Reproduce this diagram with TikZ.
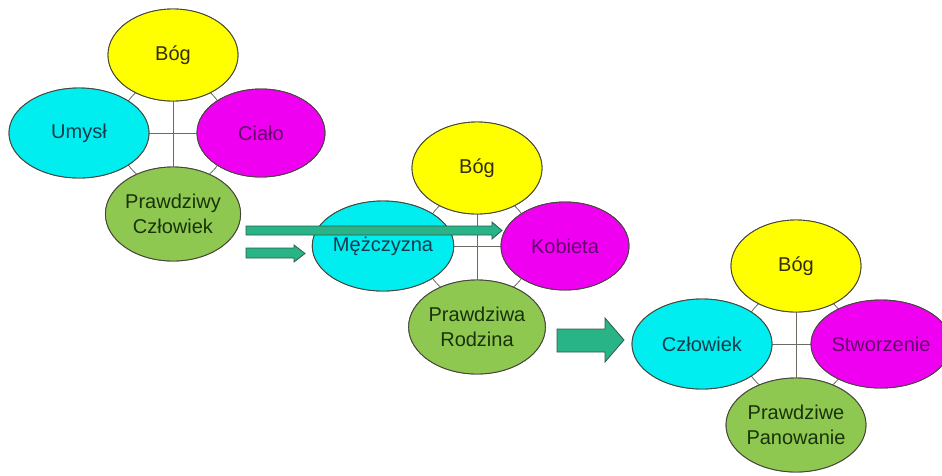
\documentclass[tikz,border=0pt]{standalone}
\usepackage{fontspec}
\setmainfont{Liberation Sans}
\usetikzlibrary{shapes.geometric}
\definecolor{cyellow}{RGB}{255,255,0}
\definecolor{ccyan}{RGB}{0,238,240}
\definecolor{cmag}{RGB}{240,0,240}
\definecolor{cgreen}{RGB}{142,200,80}
\definecolor{tyellow}{RGB}{50,45,10}
\definecolor{tcyan}{RGB}{20,60,75}
\definecolor{tmag}{RGB}{100,0,110}
\definecolor{tgreen}{RGB}{25,50,10}
\definecolor{cedge}{RGB}{70,70,60}
\definecolor{carrow}{RGB}{40,180,135}
\definecolor{carrowedge}{RGB}{45,90,75}
\tikzset{
  bubble/.style={ellipse, draw=cedge, line width=0.9pt, inner sep=0pt, align=center,
     font=\fontsize{20}{25}\selectfont},
  topb/.style={bubble, fill=cyellow, text=tyellow, minimum width=130pt, minimum height=92pt},
  leftb/.style={bubble, fill=ccyan, text=tcyan, minimum width=140pt, minimum height=90pt},
  rightb/.style={bubble, fill=cmag, text=tmag, minimum width=128pt, minimum height=88pt},
  botb/.style={bubble, fill=cgreen, text=tgreen, minimum width=132pt, minimum height=94pt},
  hubline/.style={draw=cedge!80, line width=0.8pt},
  blockarrow/.style={fill=carrow, draw=carrowedge, line width=0.8pt, line join=miter}
}
\newcommand{\radialgroup}[8]{%
  % #1 name, #2 x, #3 y, #4 top, #5 left, #6 right, #7 bottom, #8 right offset
  \coordinate (#1hub) at (#2,#3);
  \draw[hubline] (#1hub) circle (55pt);
  \node[topb] (#1top) at (#2,#3-78) {#4};
  \node[leftb] (#1left) at (#2-94,#3) {#5};
  \node[rightb] (#1right) at (#2+#8,#3) {#6};
  \node[botb] (#1bot) at (#2,#3+81) {#7};
  \draw[hubline] (#1top.south) -- (#1bot.north);
  \draw[hubline] (#1left.east) -- (#1right.west);
  \node[topb] at (#1top) {#4};
  \node[leftb] at (#1left) {#5};
  \node[rightb] at (#1right) {#6};
  \node[botb] at (#1bot) {#7};
}
\begin{document}
\begin{tikzpicture}[x=1pt,y=-1pt]
\useasboundingbox (0,0) rectangle (942,475);
\radialgroup{a}{173}{133}{Bóg}{Umysł}{Ciało}{Prawdziwy\\Człowiek}{88}
\radialgroup{b}{477}{246}{Bóg}{Mężczyzna}{Kobieta}{Prawdziwa\\Rodzina}{88}
\radialgroup{c}{796}{344}{Bóg}{Człowiek}{Stworzenie}{Prawdziwe\\Panowanie}{85}
% block arrows
\path[blockarrow] (246,226) -- (492,226) -- (492,222) -- (502,230.5) -- (492,239) -- (492,235) -- (246,235) -- cycle;
\path[blockarrow] (246,248) -- (294,248) -- (294,245) -- (305,253.5) -- (294,262) -- (294,258) -- (246,258) -- cycle;
\path[blockarrow] (557,329) -- (605,329) -- (605,318) -- (624,340) -- (605,362) -- (605,352) -- (557,352) -- cycle;
\end{tikzpicture}
\end{document}
